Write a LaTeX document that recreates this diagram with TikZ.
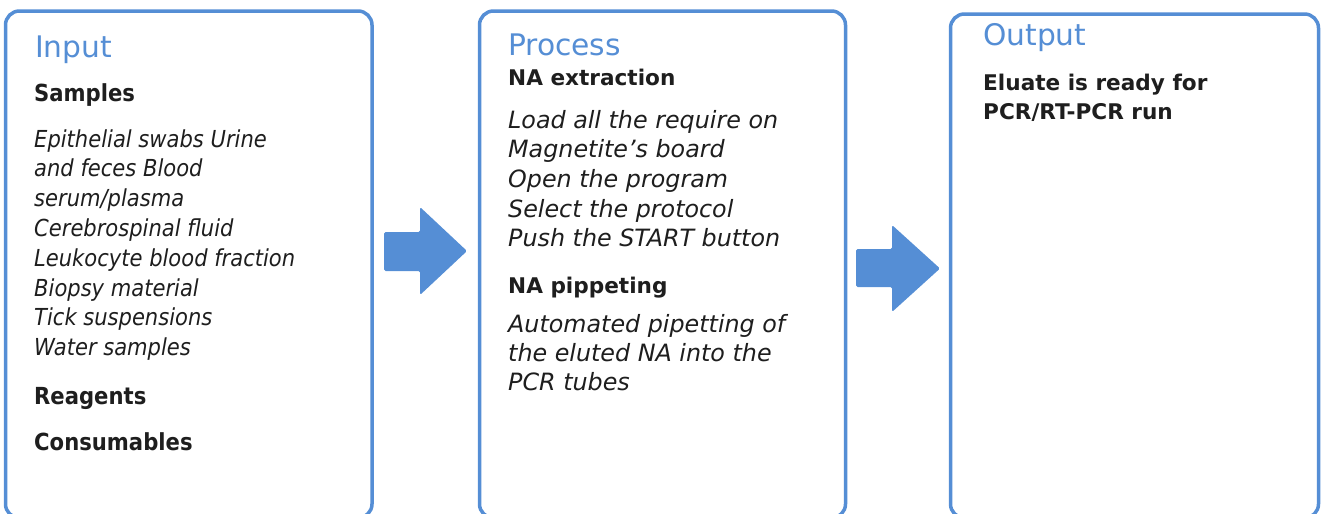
\documentclass[tikz,border=0pt]{standalone}
\usepackage{fontspec}
\setmainfont{DejaVu Sans}
% narrower cut of the same face for the Input column
\newfontfamily\narrowfont[FakeStretch=0.9]{DejaVu Sans}
\definecolor{accent}{HTML}{558ED5}
\definecolor{ink}{HTML}{1E1E1E}

\tikzset{
  panel/.style={draw=accent, line width=3.5pt, rounded corners=14pt, fill=white,
                inner sep=0pt, outer sep=0pt, anchor=north west},
  paneltitle/.style={anchor=base west, inner sep=0pt, text=accent,
                font=\fontsize{29.7}{30}\selectfont},
  heading/.style={anchor=base west, inner sep=0pt, text=ink,
                font=\fontsize{21.6}{26}\selectfont\bfseries},
  bodyline/.style={anchor=base west, inner sep=0pt, text=ink,
                font=\fontsize{23.8}{28}\selectfont\itshape},
  narrowhead/.style={anchor=base west, inner sep=0pt, text=ink,
                font=\narrowfont\fontsize{23.5}{28}\selectfont\bfseries},
  narrowline/.style={anchor=base west, inner sep=0pt, text=ink,
                font=\narrowfont\fontsize{23.4}{28}\selectfont\itshape},
  blockarrow/.style={fill=accent, draw=none, rounded corners=1.5pt}
}

\begin{document}
\begin{tikzpicture}[x=1pt,y=-1pt]
  \useasboundingbox (0,0) rectangle (1323,514);

  % three panels, their lower edge just below the page
  \node[panel, minimum width=366.5pt, minimum height=507pt] (input)   at (5.5,11) {};
  \node[panel, minimum width=366pt,   minimum height=507pt] (process) at (479.5,11) {};
  \node[panel, minimum width=368pt,   minimum height=504pt] (output)  at (950.5,14) {};

  % block arrows between the panels
  \fill[blockarrow] (384,232) -- (420,232) -- (420,207) -- (467,251)
                    -- (420,295) -- (420,271) -- (384,271) -- cycle;
  \fill[blockarrow] (856,249) -- (892,249) -- (892,225) -- (940,268.5)
                    -- (892,312) -- (892,287) -- (856,287) -- cycle;

  % Input column
  \node[paneltitle] (inTitle) at (35,57) {Input};
  \node[narrowhead] (samples) at (34,101) {Samples};
  \foreach \t [count=\i from 0] in {Epithelial swabs Urine, and feces Blood,
      serum/plasma, Cerebrospinal fluid, Leukocyte blood fraction,
      Biopsy material, Tick suspensions, Water samples}
    \node[narrowline] (sample\i) at (34,147+29.8*\i) {\t};
  \node[narrowhead] (reagents) at (34,404) {Reagents};
  \node[narrowhead] (consumables) at (34,450) {Consumables};

  % Process column
  \node[paneltitle] (prTitle) at (508,55) {Process};
  \node[heading] (extraction) at (508,85) {NA extraction};
  \foreach \t [count=\i from 0] in {Load all the require on,
      Magnetite’s board, Open the program, Select the protocol,
      Push the START button}
    \node[bodyline] (step\i) at (508,128+29.7*\i) {\t};
  \node[heading] (pipetting) at (508,293) {NA pippeting};
  \foreach \t [count=\i from 0] in {Automated pipetting of,
      the eluted NA into the, PCR tubes}
    \node[bodyline] (auto\i) at (508,332+29*\i) {\t};

  % Output column
  \node[paneltitle] (outTitle) at (983,45) {Output};
  \node[heading] (result1) at (983,90) {Eluate is ready for};
  \node[heading] (result2) at (983,119) {PCR/RT-PCR run};
\end{tikzpicture}
\end{document}
